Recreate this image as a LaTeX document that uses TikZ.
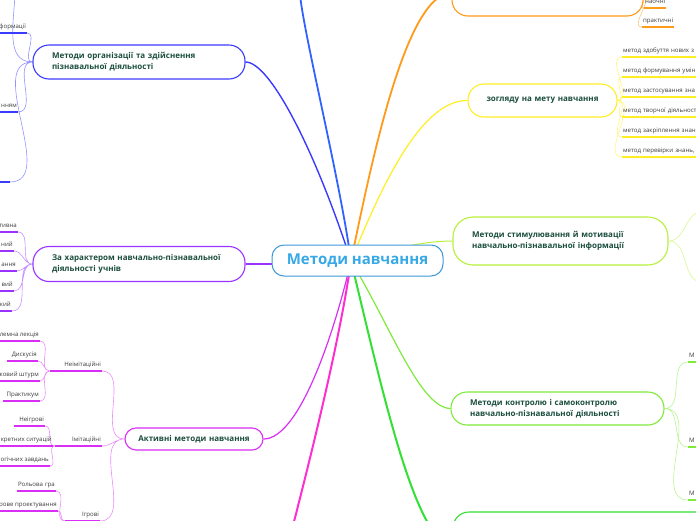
\documentclass[tikz,border=0pt]{standalone}
\usepackage{fontspec}
\setmainfont{Open Sans}
\usetikzlibrary{backgrounds}
\definecolor{rootblue}{HTML}{3D98DA}
\definecolor{roottext}{HTML}{36A9E6}
\definecolor{topictext}{HTML}{1B4D3E}
\definecolor{leaftext}{HTML}{3A3A3A}
\definecolor{cblue}{HTML}{2F62FF}
\definecolor{cindigo}{HTML}{3B3BFF}
\definecolor{corange}{HTML}{FF9A1A}
\definecolor{cyellow}{HTML}{FFEE22}
\definecolor{clime}{HTML}{B8F03A}
\definecolor{cgreen}{HTML}{7FEA3A}
\definecolor{cbright}{HTML}{33E033}
\definecolor{cmagenta}{HTML}{FF2ECF}
\definecolor{cviolet}{HTML}{D92EF5}
\definecolor{cpurple}{HTML}{9A33FF}

\begin{document}
\begin{tikzpicture}[x=1pt,y=-1pt,font=\fontsize{6.1}{7}\selectfont,
  topic/.style={draw=#1,line width=1.1pt,fill=white,rounded corners=16pt,text=topictext,
    font=\bfseries\fontsize{8}{11}\selectfont,align=left,inner xsep=19pt,inner ysep=0pt},
  leaf/.style={text=leaftext,inner xsep=1pt,inner ysep=3.5pt,text height=4.4pt,text depth=1.3pt,
    append after command={(\tikzlastnode.south west) edge[draw=#1,line width=1.2pt] (\tikzlastnode.south east)}},
  twig/.style={draw=#1!55,line width=.6pt},
  branch/.style={draw=#1,line width=1.4pt}]
\useasboundingbox (0,0) rectangle (696,520);
\clip (0,0) rectangle (696,520);

\node[draw=rootblue,line width=1pt,fill=white,rounded corners=12pt,minimum width=171pt,minimum height=31pt,
  text=roottext,font=\bfseries\fontsize{15}{18}\selectfont] (root) at (357.5,260.5) {Методи навчання};
\coordinate (hub) at (351,261);

\node[topic=cindigo,text width=174pt,minimum height=34pt] (org) at (139,62) {Методи організації та здійснення\\пізнавальної діяльності};
\node[topic=cpurple,text width=174pt,minimum height=35pt] (kind) at (139,264) {За характером навчально-пізнавальної\\діяльності учнів};
\node[topic=cviolet,text width=124pt,minimum height=22pt,inner xsep=7pt,rounded corners=11pt,align=center] (active) at (194,439) {Активні методи навчання};
\node[topic=corange,minimum width=191pt,minimum height=46pt] (sense) at (547.5,-7) {};
\node[topic=cyellow,text width=127pt,minimum height=33pt,inner xsep=11pt,align=center] (aim) at (542.5,100.5) {зогляду на мету навчання};
\node[topic=clime,text width=177pt,minimum height=48pt,rounded corners=20pt] (stim) at (560.5,241) {Методи стимулювання й мотивації\\навчально-пізнавальної інформації};
\node[topic=cgreen,text width=175pt,minimum height=33pt] (ctrl) at (557.5,408.5) {Методи контролю і самоконтролю\\навчально-пізнавальної діяльності};
\node[topic=cbright,minimum width=380pt,minimum height=66pt] (bottomtopic) at (643,545) {};
\coordinate (blueend) at (300,-5);
\coordinate (magend) at (288,545);

\coordinate (orgup) at (15,-10);
\node[leaf=cindigo,anchor=south east] (org1) at (27,33) {формації};
\node[leaf=cindigo,anchor=south east] (org2) at (18,112) {нням};
\node[leaf=cindigo,anchor=south east,minimum width=12pt] (org3) at (10,182) {};

\node[leaf=cpurple,anchor=south east] (kind1) at (18,232) {тивна};
\node[leaf=cpurple,anchor=south east] (kind2) at (14,251) {ний};
\node[leaf=cpurple,anchor=south east] (kind3) at (17,271) {ання};
\node[leaf=cpurple,anchor=south east] (kind4) at (14,291) {вий};
\node[leaf=cpurple,anchor=south east] (kind5) at (12,311) {кий};

\node[leaf=cviolet,anchor=south east,text width=50pt,align=right] (nonim) at (102,371) {Неімітаційні};
\node[leaf=cviolet,anchor=south east,text width=45pt,align=right] (imit) at (102,446) {Імітаційні};
\node[leaf=cviolet,anchor=south east,text width=33pt,align=right] (games) at (100,521) {Ігрові};
\node[leaf=cviolet,anchor=south east] (nonim1) at (40,341) {блемна лекція};
\node[leaf=cviolet,anchor=south east,text width=29pt,align=right] (nonim2) at (38,361) {Дискусія};
\node[leaf=cviolet,anchor=south east] (nonim3) at (40,381) {ковий штурм};
\node[leaf=cviolet,anchor=south east,text width=35pt,align=right] (nonim4) at (40,401) {Практикум};
\node[leaf=cviolet,anchor=south east,text width=29pt,align=right] (imit1) at (45,426) {Неігрові};
\node[leaf=cviolet,anchor=south east] (imit2) at (53,446) {кретних ситуацій};
\node[leaf=cviolet,anchor=south east] (imit3) at (50,466) {логічних завдань};
\node[leaf=cviolet,anchor=south east,text width=37pt,align=right] (games1) at (56,491) {Рольова гра};
\node[leaf=cviolet,anchor=south east] (games2) at (58,511) {грове проектування};

\node[leaf=corange,anchor=south west,text width=20pt] (sense1) at (644,8) {наочні};
\node[leaf=corange,anchor=south west] (sense2) at (642,27) {практичні};

\node[leaf=cyellow,anchor=south west,text width=80pt] (aim1) at (622,57) {метод здобуття нових з};
\node[leaf=cyellow,anchor=south west,text width=80pt] (aim2) at (622,77) {метод формування умін};
\node[leaf=cyellow,anchor=south west,text width=80pt] (aim3) at (622,97) {метод застосування зна};
\node[leaf=cyellow,anchor=south west,text width=80pt] (aim4) at (622,117) {метод творчої діяльност};
\node[leaf=cyellow,anchor=south west,text width=80pt] (aim5) at (622,137) {метод закріплення знан};
\node[leaf=cyellow,anchor=south west,text width=80pt] (aim6) at (622,157) {метод перевірки знань,};

\coordinate (stimup) at (702,212);
\coordinate (stimdown) at (702,282);
\node[leaf=cgreen,anchor=south west,text width=20pt] (ctrl1) at (688,362) {М};
\node[leaf=cgreen,anchor=south west,text width=20pt] (ctrl2) at (688,447) {М};
\node[leaf=cgreen,anchor=south west,text width=20pt] (ctrl3) at (688,500) {М};

\begin{pgfonlayer}{background}
\draw[branch=cblue,line width=1.8pt] (hub) .. controls (340,180) and (305,40) .. (blueend);
\draw[branch=cindigo] (org.east) .. controls (270,62) and (315,150) .. (hub);
\draw[branch=corange,line width=1.8pt] (hub) .. controls (370,170) and (405,-7) .. (sense.west);
\draw[branch=cyellow,line width=1.2pt] (hub) .. controls (380,190) and (420,100) .. (aim.west);
\draw[branch=clime,line width=1pt] (hub) .. controls (390,250) and (420,241) .. (stim.west);
\draw[branch=cgreen,line width=1.2pt] (hub) .. controls (390,325) and (420,408) .. (ctrl.west);
\draw[branch=cbright,line width=2pt] (hub) .. controls (380,380) and (415,545) .. (bottomtopic.west);
\draw[branch=cmagenta,line width=2pt] (hub) .. controls (340,340) and (310,460) .. (magend);
\draw[branch=cviolet,line width=1.2pt] (hub) .. controls (335,330) and (300,439) .. (active.east);
\draw[branch=cpurple] (kind.east) -- (kind.east -| root.west);

\draw[twig=cindigo] (org.west) to[out=180,in=-90] (orgup)
  (org.west) to[out=180,in=0] (org1.south east)
  (org.west) to[out=180,in=0] (org2.south east)
  (org.west) to[out=180,in=0] (org3.south east);
\draw[twig=cpurple] (kind.west) to[out=180,in=0] (kind1.south east)
  (kind.west) to[out=180,in=0] (kind2.south east)
  (kind.west) to[out=180,in=0] (kind3.south east)
  (kind.west) to[out=180,in=0] (kind4.south east)
  (kind.west) to[out=180,in=0] (kind5.south east);
\draw[twig=cviolet] (active.west) to[out=180,in=0] (nonim.south east)
  (active.west) to[out=180,in=0] (imit.south east)
  (active.west) to[out=180,in=0] (games.south east);
\draw[twig=cviolet] (nonim.south west) to[out=180,in=0] (nonim1.south east)
  (nonim.south west) to[out=180,in=0] (nonim2.south east)
  (nonim.south west) to[out=180,in=0] (nonim3.south east)
  (nonim.south west) to[out=180,in=0] (nonim4.south east);
\draw[twig=cviolet] (imit.south west) to[out=180,in=0] (imit1.south east)
  (imit.south west) to[out=180,in=0] (imit2.south east)
  (imit.south west) to[out=180,in=0] (imit3.south east);
\draw[twig=cviolet] (games.south west) to[out=180,in=0] (games1.south east)
  (games.south west) to[out=180,in=0] (games2.south east);
\draw[twig=corange] (sense.east) to[out=0,in=180] (sense1.south west)
  (sense.east) to[out=0,in=180] (sense2.south west);
\draw[twig=cyellow] (aim.east) to[out=0,in=180] (aim1.south west)
  (aim.east) to[out=0,in=180] (aim2.south west)
  (aim.east) to[out=0,in=180] (aim3.south west)
  (aim.east) to[out=0,in=180] (aim4.south west)
  (aim.east) to[out=0,in=180] (aim5.south west)
  (aim.east) to[out=0,in=180] (aim6.south west);
\draw[twig=clime] (stim.east) to[out=0,in=180] (stimup)
  (stim.east) to[out=0,in=180] (stimdown);
\draw[twig=cgreen] (ctrl.east) to[out=0,in=180] (ctrl1.south west)
  (ctrl.east) to[out=0,in=180] (ctrl2.south west)
  (ctrl.east) to[out=0,in=180] (ctrl3.south west);
\end{pgfonlayer}
\end{tikzpicture}
\end{document}
